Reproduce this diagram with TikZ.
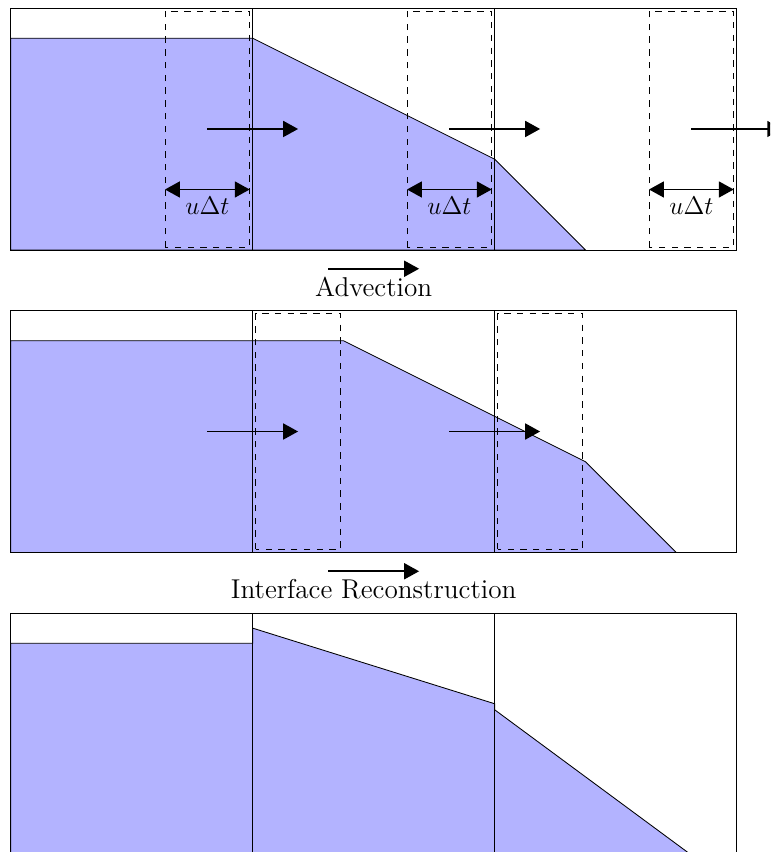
\documentclass[tikz,border=0pt]{standalone}
\usepackage{xcolor}
\usepackage{tikz}
\usetikzlibrary{arrows.meta}
\definecolor{fluid}{RGB}{179,179,255}

\tikzset{
  flow/.style={thick,-{Triangle[length=7pt,width=7.5pt]}},
  span/.style={thick,{Triangle[length=7pt,width=7.5pt]}-{Triangle[length=7pt,width=7.5pt]}},
  cellbox/.style={dashed},
}

\begin{document}
\begin{tikzpicture}[font=\fontsize{12.8}{15}\selectfont]
\useasboundingbox (-0.177,-9.95) rectangle (12.55,4.132);
\clip (-0.177,-9.95) rectangle (12.55,4.132);

\fill[fluid,draw=black] (0,0) -- (0,3.5) -- (4,3.5) -- (8,1.5) -- (9.5,0) -- cycle;
\draw (0,0) rectangle (12,4) (4,0) -- (4,4) (8,0) -- (8,4);
\foreach \x [count=\i] in {4,8,12}{
  \draw[cellbox] (\x-1.45,0.05) rectangle (\x-0.05,3.95);
  \draw[flow] (\x-0.75,2) -- (\x+0.75,2);
  \draw[span] (\x-1.45,1) -- (\x-0.05,1) node[midway,below] (u\i) {$u\Delta t$};
}
\draw[flow] (5.25,-0.31) -- (6.75,-0.31) node[midway,below] (adv) {Advection};

\begin{scope}[yshift=-5cm]
\fill[fluid,draw=black] (0,0) -- (0,3.5) -- (5.5,3.5) -- (9.5,1.5) -- (11,0) -- cycle;
\draw (0,0) rectangle (12,4) (4,0) -- (4,4) (8,0) -- (8,4);
\foreach \x in {4,8}{
  \draw[cellbox] (\x+0.05,0.05) rectangle (\x+1.45,3.95);
  \draw[flow] (\x-0.75,2) -- (\x+0.75,2);
}
\draw[flow] (5.25,-0.31) -- (6.75,-0.31) node[midway,below] (rec) {Interface Reconstruction};
\end{scope}

\begin{scope}[yshift=-10cm]
\fill[fluid,draw=black] (0,0) -- (0,3.5) -- (4,3.5) -- (4,3.75) -- (8,2.5) -- (8,2.4) -- (11.25,0) -- cycle;
\draw (0,0) rectangle (12,4) (4,0) -- (4,4) (8,0) -- (8,4);
\end{scope}
\end{tikzpicture}
\end{document}
